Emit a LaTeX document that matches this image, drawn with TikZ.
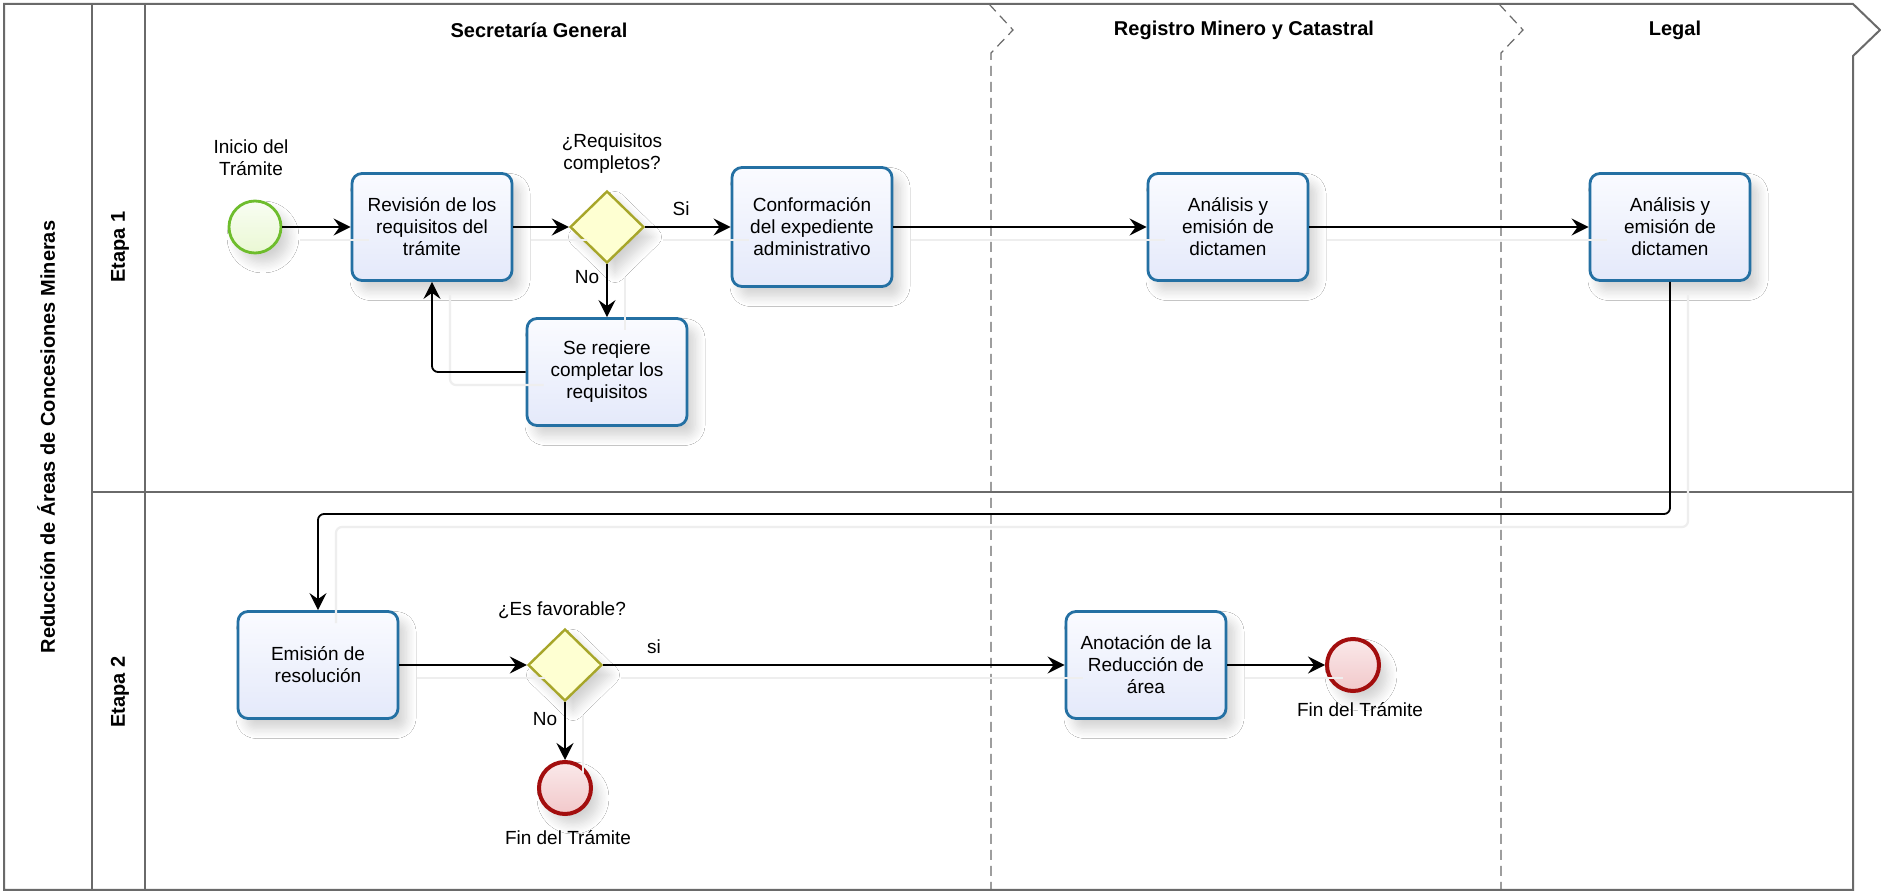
\documentclass[tikz,border=0pt]{standalone}
\usepackage{fontspec}
\setmainfont{Liberation Sans}
\usetikzlibrary{shapes.geometric,arrows.meta,shadows.blur,calc}
\definecolor{taskb}{HTML}{2470A3}
\definecolor{tasktop}{HTML}{FAFBFF}
\definecolor{taskbot}{HTML}{E4E9FA}
\definecolor{gwb}{HTML}{A7A62A}
\definecolor{gwf}{HTML}{FEFFD2}
\definecolor{endb}{HTML}{A30E0E}
\definecolor{endf}{HTML}{F2C8CA}
\definecolor{startb}{HTML}{6EBD2C}
\definecolor{startf}{HTML}{EAF8D4}
\definecolor{lanec}{HTML}{6A6A6A}
\definecolor{flowsh}{HTML}{EEEEEE}
\tikzset{
  shad/.style={blur shadow={shadow xshift=4pt,shadow yshift=-5pt,shadow blur steps=8,shadow opacity=18,shadow blur radius=5pt}},
  taskbox/.style={draw=taskb,line width=1.4pt,rounded corners=5pt,top color=tasktop,bottom color=taskbot,
    minimum width=80pt,minimum height=53.5pt,align=center,font=\fontsize{9.5}{11}\selectfont,inner sep=1pt,shad},
  gateway/.style={diamond,draw=gwb,line width=1.2pt,fill=gwf,minimum width=37pt,minimum height=36pt,inner sep=0pt,shad},
  endev/.style={circle,draw=endb,line width=2pt,top color=endf!40,bottom color=endf,minimum size=26pt,inner sep=0pt,shad},
  startev/.style={circle,draw=startb,line width=1.4pt,top color=startf!30,bottom color=startf,minimum size=26pt,inner sep=0pt,shad},
  lbl/.style={font=\fontsize{9.5}{11}\selectfont,align=center,inner sep=0pt},
  hdr/.style={font=\bfseries\fontsize{10}{12}\selectfont,inner sep=0pt},
  flow/.style={draw=black,line width=0.9pt,-{Stealth[length=8.5pt,width=8.5pt,inset=3pt]},
    preaction={draw=flowsh,line width=1.1pt,arrows=-,transform canvas={shift={(9pt,-6.5pt)}}}},
  lanel/.style={draw=lanec,line width=1pt},
  sep/.style={draw=lanec,line width=0.6pt,dash pattern=on 5pt off 3pt}
}
\begin{document}
\begin{tikzpicture}[x=0.5pt,y=-0.5pt]
\useasboundingbox (0,0) rectangle (1881,892);
\fill[white] (0,0) rectangle (1881,892);
% pool outline
\draw[lanel] (4,4) -- (1853,4) -- (1880,30) -- (1853,56) -- (1853,890) -- (4,890) -- cycle;
\draw[lanel] (92,4) -- (92,890);
\draw[lanel] (145,4) -- (145,890);
\draw[lanel] (92,492) -- (1853,492);
% separators
\draw[sep] (989,4) -- (1013,30) -- (991,53) -- (991,890);
\draw[sep] (1499,4) -- (1523,30) -- (1501,53) -- (1501,890);
% titles
\node[hdr,rotate=90] (pool) at (46,437) {Reducción de Áreas de Concesiones Mineras};
\node[hdr,rotate=90] (et1) at (120,247) {Etapa 1};
\node[hdr,rotate=90] (et2) at (120,692) {Etapa 2};
\node[hdr] (h1) at (539,30) {Secretaría General};
\node[hdr] (h2) at (1244,30) {Registro Minero y Catastral};
\node[hdr] (h3) at (1675,30) {Legal};
% lane 1
\node[startev] (start) at (255,227) {};
\node[lbl] (startl) at (251,158) {Inicio del\\Trámite};
\node[taskbox] (rev) at (432,227) {Revisión de los\\requisitos del\\trámite};
\node[gateway] (gw1) at (607,227) {};
\node[lbl] (gw1l) at (612,154) {¿Requisitos\\completos?};
\node[taskbox,minimum height=59.5pt] (conf) at (812,227) {Conformación\\del expediente\\administrativo};
\node[taskbox] (se) at (607,372) {Se reqiere\\completar los\\requisitos};
\node[taskbox] (rmc) at (1228,227) {Análisis y\\emisión de\\dictamen};
\node[taskbox] (leg) at (1670,227) {Análisis y\\emisión de\\dictamen};
% lane 2
\node[taskbox] (emi) at (318,665) {Emisión de\\resolución};
\node[gateway] (gw2) at (565,665) {};
\node[lbl] (gw2l) at (562,610) {¿Es favorable?};
\node[endev] (end1) at (565,788) {};
\node[lbl] (end1l) at (568,838) {Fin del Trámite};
\node[taskbox] (ano) at (1146,665) {Anotación de la\\Reducción de\\área};
\node[endev] (end2) at (1353,665) {};
\node[lbl] (end2l) at (1360,710) {Fin del Trámite};
\coordinate (bend) at (1000,514);
% flows
\draw[flow] (start) -- (rev);
\draw[flow] (rev) -- (gw1);
\draw[flow] (gw1) -- node[lbl,pos=0.42,yshift=9pt] (si1) {Si} (conf);
\draw[flow] (gw1) -- node[lbl,pos=0.25,xshift=-10pt] (no1) {No} (se);
\draw[flow,rounded corners=3pt] (se.west) -| (rev.south);
\draw[flow] (conf) -- (rmc);
\draw[flow] (rmc) -- (leg);
\draw[flow,rounded corners=3pt] (leg.south) |- (bend) -| (emi.north);
\draw[flow] (emi) -- (gw2);
\draw[flow] (gw2) -- node[lbl,pos=0.11,yshift=9pt] (si2) {si} (ano);
\draw[flow] (gw2) -- node[lbl,pos=0.3,xshift=-10pt] (no2) {No} (end1);
\draw[flow] (ano) -- (end2);
\end{tikzpicture}
\end{document}
